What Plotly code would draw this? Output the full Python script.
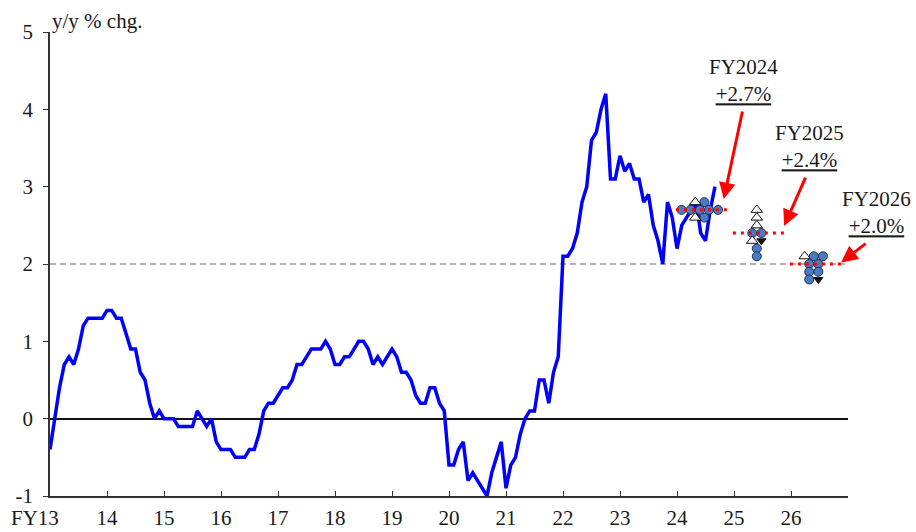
import plotly.graph_objects as go
import pandas as pd

# ---------------- data ----------------
months = pd.period_range("2013-04", "2024-12", freq="M")
core_cpi = [
    # FY2013
    -0.4, 0.0, 0.4, 0.7, 0.8, 0.7, 0.9, 1.2, 1.3, 1.3, 1.3, 1.3,
    # FY2014
    1.4, 1.4, 1.3, 1.3, 1.1, 0.9, 0.9, 0.6, 0.5, 0.2, 0.0, 0.1,
    # FY2015
    0.0, 0.0, 0.0, -0.1, -0.1, -0.1, -0.1, 0.1, 0.0, -0.1, 0.0, -0.3,
    # FY2016
    -0.4, -0.4, -0.4, -0.5, -0.5, -0.5, -0.4, -0.4, -0.2, 0.1, 0.2, 0.2,
    # FY2017
    0.3, 0.4, 0.4, 0.5, 0.7, 0.7, 0.8, 0.9, 0.9, 0.9, 1.0, 0.9,
    # FY2018
    0.7, 0.7, 0.8, 0.8, 0.9, 1.0, 1.0, 0.9, 0.7, 0.8, 0.7, 0.8,
    # FY2019
    0.9, 0.8, 0.6, 0.6, 0.5, 0.3, 0.2, 0.2, 0.4, 0.4, 0.2, 0.1,
    # FY2020
    -0.6, -0.6, -0.4, -0.3, -0.8, -0.7, -0.8, -0.9, -1.0, -0.7, -0.5, -0.3,
    # FY2021
    -0.9, -0.6, -0.5, -0.2, 0.0, 0.1, 0.1, 0.5, 0.5, 0.2, 0.6, 0.8,
    # FY2022
    2.1, 2.1, 2.2, 2.4, 2.8, 3.0, 3.6, 3.7, 4.0, 4.2, 3.1, 3.1,
    # FY2023
    3.4, 3.2, 3.3, 3.1, 3.1, 2.8, 2.9, 2.5, 2.3, 2.0, 2.8, 2.6,
    # FY2024
    2.2, 2.5, 2.6, 2.7, 2.8, 2.4, 2.3, 2.7, 3.0,
]

first_fy_label = "FY13"
fy_ticks = list(range(14, 27))
fy_tick_labels = ["14", "15", "16", "17", "18", "19", "20",
                  "21", "22", "23", "24", "25", "26"]
y_ticks = [-1, 0, 1, 2, 3, 4, 5]
y_tick_labels = ["-1", "0", "1", "2", "3", "4", "5"]

price_target = 2.0

forecast_names = ["FY2024", "FY2025", "FY2026"]
forecast_fy = [24, 25, 26]
forecast_median = [2.7, 2.4, 2.0]

fy24_values = [2.8, 2.8, 2.7, 2.7, 2.7, 2.7, 2.7, 2.6, 2.6]
fy24_risks = ["up", "neutral", "neutral", "neutral", "neutral", "neutral",
              "neutral", "up", "neutral"]
fy25_values = [2.7, 2.6, 2.5, 2.4, 2.4, 2.3, 2.3, 2.2, 2.1]
fy25_risks = ["up", "up", "up", "neutral", "neutral", "up", "down",
              "neutral", "neutral"]
fy26_values = [2.1, 2.1, 2.1, 2.0, 2.0, 1.9, 1.9, 1.8, 1.8]
fy26_risks = ["up", "neutral", "neutral", "neutral", "neutral", "neutral",
              "neutral", "neutral", "down"]

# ---------------- layout constants ----------------
FONT = "Liberation Serif"
X0, X1 = 13, 27
SPREAD = 0.16        # horizontal spacing of markers within a row (FY units)
CLUSTER_OFF = 0.40   # cluster centre offset from FY start
LINE_START, LINE_END = -0.02, 0.93

x_months = [(p.year - 2000) + (p.month - 4) / 12 for p in months]

fig = go.Figure()

# price stability target (dashed grey)
fig.add_trace(go.Scatter(
    x=[X0, X1 - 0.05], y=[price_target, price_target], mode="lines",
    line=dict(color="#9a9a9a", width=1.5, dash="6px,4px"),
    hoverinfo="skip", showlegend=False))

# actual CPI line
fig.add_trace(go.Scatter(
    x=x_months, y=core_cpi, mode="lines",
    line=dict(color="#0000ff", width=3.5),
    showlegend=False))

# board member forecasts
mx = {"neutral": [], "up": [], "down": []}
my = {"neutral": [], "up": [], "down": []}
for fy, vals, risks in zip(forecast_fy,
                           [fy24_values, fy25_values, fy26_values],
                           [fy24_risks, fy25_risks, fy26_risks]):
    rows = {}
    for v, r in zip(vals, risks):
        rows.setdefault(v, []).append(r)
    centre = fy + CLUSTER_OFF
    for v, rs in rows.items():
        n = len(rs)
        for i, r in enumerate(rs):
            mx[r].append(centre + (i - (n - 1) / 2) * SPREAD)
            my[r].append(v)

fig.add_trace(go.Scatter(
    x=mx["neutral"], y=my["neutral"], mode="markers",
    marker=dict(symbol="circle", size=9, color="#4a7cc4",
                line=dict(color="#1f2f55", width=1)),
    showlegend=False))
fig.add_trace(go.Scatter(
    x=mx["up"], y=my["up"], mode="markers",
    marker=dict(symbol="triangle-up", size=10, color="white",
                line=dict(color="#111111", width=1)),
    showlegend=False))
fig.add_trace(go.Scatter(
    x=mx["down"], y=my["down"], mode="markers",
    marker=dict(symbol="triangle-down", size=8, color="#111111",
                line=dict(color="#111111", width=1)),
    showlegend=False))

# medians (red dotted)
for fy, med in zip(forecast_fy, forecast_median):
    fig.add_trace(go.Scatter(
        x=[fy + LINE_START, fy + LINE_END], y=[med, med], mode="lines",
        line=dict(color="#ff0000", width=3, dash="3px,5px"),
        hoverinfo="skip", showlegend=False))

# ---------------- annotations ----------------
annotations = []
# forecast labels (paper coordinates so they can sit beyond the axis end)
label_pos = [(25.17, 4.37), (26.33, 3.52), (27.50, 2.66)]
arrow_off = [(19, -89), (22, -50), (26, -20)]
arrow_head = [(24.82, 2.84), (25.88, 2.49), (26.88, 2.02)]
for name, med, (lx, ly), (ax, ay), (hx, hy) in zip(
        forecast_names, forecast_median, label_pos, arrow_off, arrow_head):
    annotations.append(dict(
        xref="paper", yref="paper",
        x=(lx - X0) / (X1 - X0), y=(ly + 1) / 6,
        text=f"{name}<br><u>+{med:.1f}%</u>", showarrow=False,
        xanchor="center", yanchor="middle",
        font=dict(family=FONT, size=21, color="#1a1a1a")))
    annotations.append(dict(
        xref="x", yref="y", x=hx, y=hy, ax=ax, ay=ay, text="",
        showarrow=True, arrowhead=2, arrowsize=1.1, arrowwidth=3,
        arrowcolor="#ff0000", standoff=0))

annotations.append(dict(
    xref="paper", yref="paper", x=0, y=1, xanchor="left", yanchor="bottom",
    xshift=0, yshift=-3, text="y/y % chg.", showarrow=False,
    font=dict(family=FONT, size=21, color="#1a1a1a")))
# first x-axis label "FY13": the "13" sits on the first tick
annotations.append(dict(
    xref="x", yref="paper", x=X0, y=0, xanchor="right", yanchor="top",
    xshift=10, yshift=-9, text=first_fy_label, showarrow=False,
    borderpad=0,
    font=dict(family=FONT, size=21, color="#1a1a1a")))

fig.update_layout(
    width=916, height=532,
    margin=dict(l=50, r=68, t=32, b=36, autoexpand=False),
    paper_bgcolor="white", plot_bgcolor="white",
    showlegend=False,
    annotations=annotations,
    xaxis=dict(range=[X0, X1], tickvals=[X0] + fy_ticks,
               ticktext=[""] + fy_tick_labels,
               ticks="inside", ticklen=5, tickwidth=1.2, tickcolor="#333333",
               showline=True, linecolor="#333333", linewidth=1.5,
               showgrid=False, zeroline=False, automargin=False,
               ticklabelstandoff=2,
               tickfont=dict(family=FONT, size=21, color="#1a1a1a")),
    yaxis=dict(range=[-1, 5], tickvals=y_ticks, ticktext=y_tick_labels,
               ticks="outside", ticklen=5, tickwidth=1.2, tickcolor="#333333",
               showline=True, linecolor="#333333", linewidth=1.5,
               showgrid=False, zeroline=True, zerolinecolor="#111111",
               zerolinewidth=1.5, automargin=False, ticklabelstandoff=6,
               tickfont=dict(family=FONT, size=21, color="#1a1a1a")),
)

fig.write_html("out.html", config={"displayModeBar": False},
               post_script="document.body.style.margin='0px';")
